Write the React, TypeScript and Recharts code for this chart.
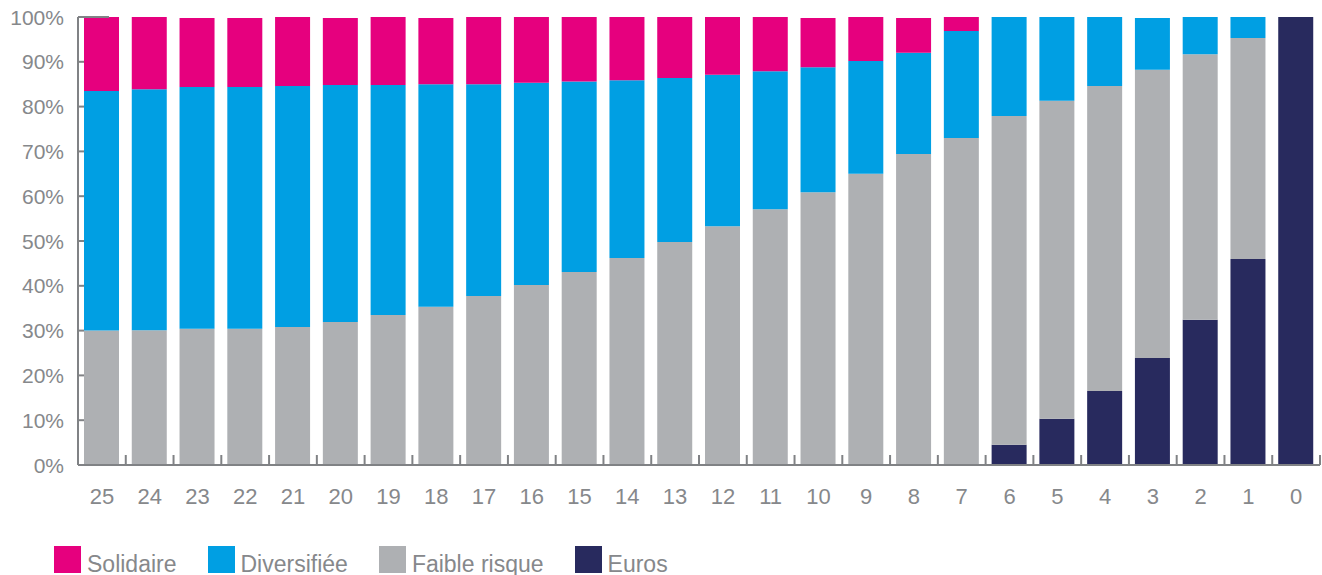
import React from 'react';
import { BarChart, Bar, XAxis, YAxis, Legend } from 'recharts';

const categories = ['25','24','23','22','21','20','19','18','17','16','15','14','13','12','11','10','9','8','7','6','5','4','3','2','1','0'];
const euros =        [0,0,0,0,0,0,0,0,0,0,0,0,0,0,0,0,0,0,0,4.5,10.3,16.5,23.9,32.4,46.0,100];
const faibleRisque = [30.0,30.1,30.4,30.4,30.8,31.9,33.5,35.3,37.7,40.2,43.1,46.2,49.8,53.3,57.1,60.9,65.0,69.4,73.0,73.4,71.0,68.1,64.3,59.3,49.3,0];
const diversifiee =  [53.5,53.8,54.0,54.0,53.8,52.9,51.3,49.7,47.3,45.1,42.5,39.7,36.6,33.8,30.8,27.9,25.2,22.6,23.9,22.1,18.7,15.4,11.6,8.3,4.7,0];
const solidaire =    [16.5,16.1,15.4,15.4,15.4,15.0,15.2,14.8,15.0,14.7,14.4,14.1,13.6,12.9,12.1,11.0,9.8,7.8,3.1,0,0,0,0,0,0,0];
const yTicks = [0,10,20,30,40,50,60,70,80,90,100];

const seriesNames = { solidaire: 'Solidaire', diversifiee: 'Diversifiée', faible: 'Faible risque', euros: 'Euros' };
const colors = { solidaire: '#E6007E', diversifiee: '#009FE3', faible: '#AEB0B3', euros: '#282A5E' };
const legendOrder = ['solidaire', 'diversifiee', 'faible', 'euros'];

const data = categories.map((c, i) => ({
  cat: c,
  euros: euros[i],
  faible: faibleRisque[i],
  diversifiee: diversifiee[i],
  solidaire: solidaire[i],
}));

const W = 1322;
const H = 575;
const MARGIN = { top: 17, right: 2, bottom: 0, left: 0 };
const Y_W = 78;
const BAND = (W - Y_W - MARGIN.left - MARGIN.right) / categories.length;
const FONT = '"Liberation Sans", Arial, sans-serif';
const AXIS = '#808285';
const TEXT = '#86888B';

const YTick = (props: any) => {
  const { x, y, payload } = props;
  const len = payload.value === 100 ? 31 : 6;
  return (
    <g>
      <line x1={x} x2={x + len} y1={y} y2={y} stroke={AXIS} strokeWidth={2} />
      <text x={x - 14} y={y + 7.5} textAnchor="end" fontSize={21} fill={TEXT} fontFamily={FONT}>
        {payload.value}%
      </text>
    </g>
  );
};

const XTick = (props: any) => {
  const { x, y, payload } = props;
  return (
    <g>
      <line x1={x + BAND / 2} x2={x + BAND / 2} y1={y} y2={y - 10} stroke={AXIS} strokeWidth={2} />
      <text x={x} y={y + 39} textAnchor="middle" fontSize={22} fill={TEXT} fontFamily={FONT}>
        {payload.value}
      </text>
    </g>
  );
};

const LegendContent = () => (
  <div style={{ height: 40, display: 'flex', paddingLeft: 54, fontFamily: FONT, fontSize: 23, color: TEXT, boxSizing: 'border-box' }}>
    {legendOrder.map((k) => (
      <div key={k} style={{ display: 'flex', alignItems: 'flex-end', marginRight: 31, marginTop: 11, height: 27 }}>
        <span style={{ display: 'inline-block', width: 27, height: 27, background: (colors as any)[k] }} />
        <span style={{ marginLeft: 6, lineHeight: '23px', position: 'relative', top: 3, whiteSpace: 'nowrap' }}>
          {(seriesNames as any)[k]}
        </span>
      </div>
    ))}
  </div>
);

export default function App() {
  return (
    <div style={{ position: 'absolute', left: 0, top: 0, width: W, height: H, background: '#fff' }}>
      <BarChart width={W} height={H} data={data} margin={MARGIN} barSize={35}>
        <YAxis
          type="number"
          domain={[0, 100]}
          ticks={yTicks}
          interval={0}
          width={Y_W}
          axisLine={{ stroke: AXIS, strokeWidth: 2 }}
          tickLine={false}
          tickSize={0}
          tickMargin={0}
          tick={<YTick />}
        />
        <XAxis
          dataKey="cat"
          height={70}
          interval={0}
          axisLine={{ stroke: AXIS, strokeWidth: 2 }}
          tickLine={false}
          tickSize={0}
          tickMargin={0}
          tick={<XTick />}
        />
        <Legend verticalAlign="bottom" align="left" content={<LegendContent />} />
        <Bar dataKey="euros" name={seriesNames.euros} stackId="a" fill={colors.euros} isAnimationActive={false} />
        <Bar dataKey="faible" name={seriesNames.faible} stackId="a" fill={colors.faible} isAnimationActive={false} />
        <Bar dataKey="diversifiee" name={seriesNames.diversifiee} stackId="a" fill={colors.diversifiee} isAnimationActive={false} />
        <Bar dataKey="solidaire" name={seriesNames.solidaire} stackId="a" fill={colors.solidaire} isAnimationActive={false} />
      </BarChart>
    </div>
  );
}
